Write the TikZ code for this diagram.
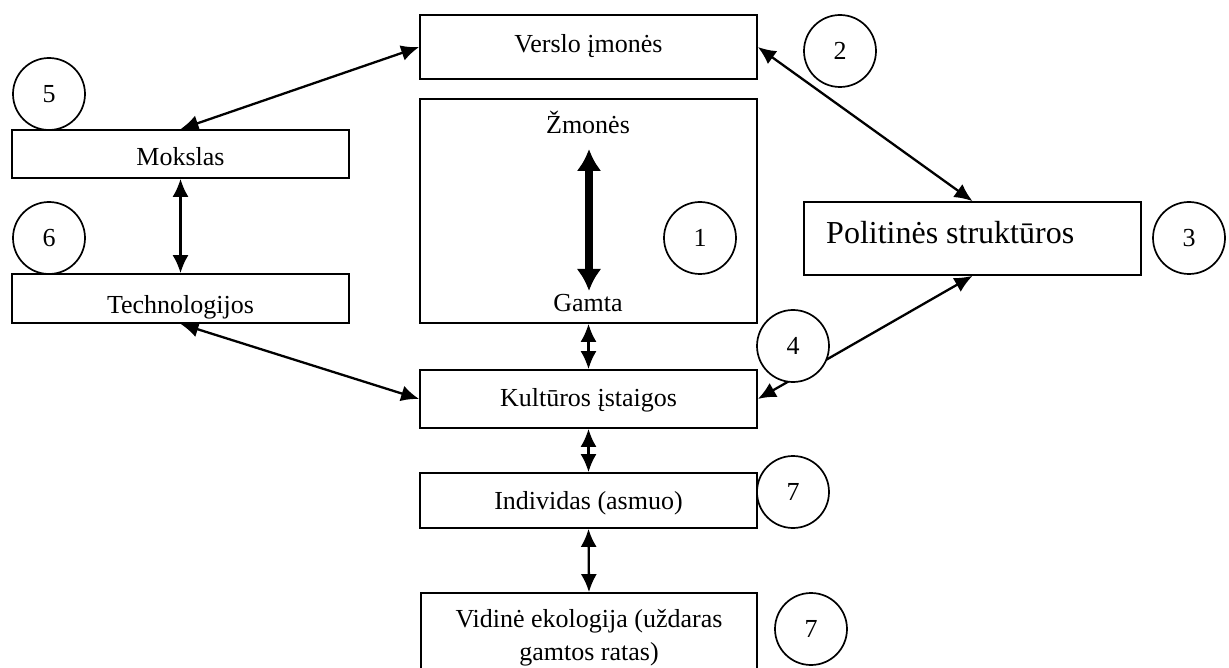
\documentclass[tikz,border=0pt]{standalone}
\usepackage{fontspec}
\setmainfont{Liberation Serif}
\usetikzlibrary{arrows.meta}
\tikzset{
  box/.style={draw, line width=1.7pt, fill=white, rectangle, inner sep=0pt},
  lbl/.style={anchor=base, inner sep=0pt, font=\fontsize{26}{31}\selectfont},
  num/.style={draw, circle, fill=white, line width=1.7pt, minimum size=72pt, inner sep=0pt, font=\fontsize{26}{31}\selectfont},
  conn/.style={line width=2.3pt, {Latex[length=18pt,width=16pt]}-{Latex[length=18pt,width=16pt]}},
  thick arrow/.style={line width=8pt, {Latex[length=22pt,width=25pt]}-{Latex[length=22pt,width=25pt]}}
}
\begin{document}
\begin{tikzpicture}[x=1pt,y=-1pt]
\useasboundingbox (0,0) rectangle (1229,668);
\clip (0,0) rectangle (1229,668);
% boxes
\node[box, minimum width=337pt, minimum height=64pt] (verslo) at (588.5,47) {};
\node[box, minimum width=337pt, minimum height=224pt] (center) at (588.5,211) {};
\node[box, minimum width=337pt, minimum height=48pt] (mokslas) at (180.5,154) {};
\node[box, minimum width=337pt, minimum height=49pt] (tech) at (180.5,298.5) {};
\node[box, minimum width=337pt, minimum height=73pt] (polit) at (972.5,238.5) {};
\node[box, minimum width=337pt, minimum height=58pt] (kult) at (588.5,399) {};
\node[box, minimum width=337pt, minimum height=55pt] (indiv) at (588.5,500.5) {};
\node[box, minimum width=336pt, minimum height=100pt] (vidine) at (589,643) {};
% labels
\node[lbl] (verslotxt) at (588.5,53) {Verslo įmonės};
\node[lbl] (mokslastxt) at (180.5,166) {Mokslas};
\node[lbl] (techtxt) at (180.5,314) {Technologijos};
\node[lbl] (zmones) at (588,134) {Žmonės};
\node[lbl] (gamta) at (588,312) {Gamta};
\node[anchor=base west, inner sep=0pt, font=\fontsize{32}{38}\selectfont] (polittxt) at (826,244) {Politinės struktūros};
\node[lbl] (kulttxt) at (588.5,406) {Kultūros įstaigos};
\node[lbl] (indivtxt) at (588.5,509) {Individas (asmuo)};
\node[lbl] (vid1) at (589,627) {Vidinė ekologija (uždaras};
\node[lbl] (vid2) at (589,660) {gamtos ratas)};
% thick arrow
\coordinate (zt) at (589,149);
\coordinate (gb) at (589,291);
\draw[thick arrow] (zt) -- (gb);
% connectors
\draw[conn] (verslo.west) -- (mokslas.north);
\draw[conn] (mokslas.south) -- (tech.north);
\draw[conn] (tech.south) -- (kult.west);
\draw[conn] (verslo.east) -- (polit.north);
\draw[conn] (polit.south) -- (kult.east);
\draw[conn] (center.south) -- (kult.north);
\draw[conn] (kult.south) -- (indiv.north);
\draw[conn] (indiv.south) -- (vidine.north);
% circles
\node[num] (c5) at (49,94) {5};
\node[num] (c2) at (840,51) {2};
\node[num] (c6) at (49,238) {6};
\node[num] (c1) at (700,238) {1};
\node[num] (c3) at (1189,238) {3};
\node[num] (c4) at (793,346) {4};
\node[num] (c7a) at (793,492) {7};
\node[num] (c7b) at (811,629) {7};
\end{tikzpicture}
\end{document}
